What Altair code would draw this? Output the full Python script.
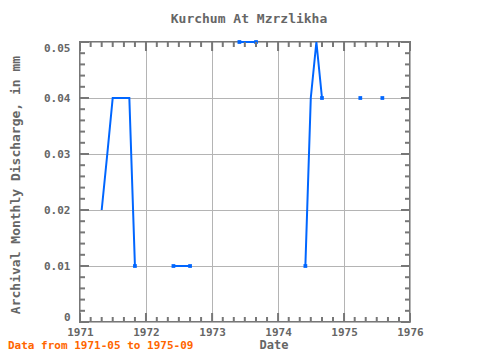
import altair as alt
import pandas as pd

# ---- data ----
months = [
    "1971-05", "1971-06", "1971-07", "1971-08", "1971-09", "1971-10", "1971-11", "1971-12",
    "1972-01", "1972-02", "1972-03", "1972-04", "1972-05", "1972-06", "1972-07", "1972-08",
    "1972-09", "1972-10", "1972-11", "1972-12",
    "1973-01", "1973-02", "1973-03", "1973-04", "1973-05", "1973-06", "1973-07", "1973-08",
    "1973-09", "1973-10", "1973-11", "1973-12",
    "1974-01", "1974-02", "1974-03", "1974-04", "1974-05", "1974-06", "1974-07", "1974-08",
    "1974-09", "1974-10", "1974-11", "1974-12",
    "1975-01", "1975-02", "1975-03", "1975-04", "1975-05", "1975-06", "1975-07", "1975-08",
    "1975-09",
]
discharge = [
    0.02, 0.03, 0.04, 0.04, 0.04, 0.04, 0.01, None,
    None, None, None, None, None, 0.01, 0.01, 0.01,
    0.01, None, None, None,
    None, None, None, None, None, 0.05, 0.05, 0.05,
    0.05, None, None, None,
    None, None, None, None, None, 0.01, 0.04, 0.05,
    0.04, None, None, None,
    None, None, None, 0.04, None, None, None, 0.04,
    None,
]

year_ticks = [1971, 1972, 1973, 1974, 1975, 1976]
x_minor_ticks = [f"{y}-{m:02d}-01" for y in range(1971, 1976) for m in (3, 5, 7, 9, 11)]
y_major_ticks = [0.0, 0.01, 0.02, 0.03, 0.04, 0.05]
y_minor_ticks = [0.002, 0.004, 0.006, 0.008, 0.012, 0.014, 0.016, 0.018,
                 0.022, 0.024, 0.026, 0.028, 0.032, 0.034, 0.036, 0.038,
                 0.042, 0.044, 0.046, 0.048]

title_text = "Kurchum At Mzrzlikha"
y_title = "Archival Monthly Discharge, in mm"
x_title = "Date"
note_text = "Data from 1971-05 to 1975-09"

# ---- build tables ----
rows = []
seg = 0
for i, (m, v) in enumerate(zip(months, discharge)):
    if v is None:
        seg += 1
        continue
    prev_missing = i > 0 and discharge[i - 1] is None
    next_missing = i < len(discharge) - 1 and discharge[i + 1] is None
    rows.append({"date": m + "-01", "value": v, "seg": seg,
                 "marker": bool(prev_missing or next_missing)})
df = pd.DataFrame(rows)

W, H = 330, 280
FONT = "DejaVu Sans Mono"
GRAY = "#777777"
BLUE = "#0066ff"

xscale = alt.Scale(type="utc", domain=[alt.DateTime(year=1971, month=1, date=1, utc=True),
                                       alt.DateTime(year=1976, month=1, date=1, utc=True)],
                   nice=False)
yscale = alt.Scale(domain=[0, 0.05], nice=False)

xaxis = alt.Axis(values=[alt.DateTime(year=y, month=1, date=1, utc=True) for y in year_ticks],
                 labelExpr="utcFormat(datum.value, '%Y')", grid=True, gridColor="#b4b4b4",
                 gridWidth=1, domain=False, ticks=False, tickSize=0, labelPadding=4,
                 labelAlign="center", labelFlush=False,
                 labelFont=FONT, labelFontSize=11, labelFontWeight="bold", labelColor="#666666",
                 title=None)
yaxis = alt.Axis(values=y_major_ticks,
                 labelExpr="datum.value == 0 ? '0' : format(datum.value, '.2f')",
                 grid=True, gridColor="#b4b4b4", gridWidth=1, domain=False, ticks=False,
                 tickSize=0, labelPadding=10, labelFlush=True, labelFont=FONT, labelFontSize=11,
                 labelFontWeight="bold", labelColor="#666666", title=None)

base = alt.Chart(df)
line = base.mark_line(color=BLUE, strokeWidth=2).encode(
    x=alt.X("date:T", scale=xscale, axis=xaxis),
    y=alt.Y("value:Q", scale=yscale, axis=yaxis),
    detail="seg:N",
)
points = base.mark_square(color=BLUE, size=14, opacity=1).encode(
    x=alt.X("date:T", scale=xscale),
    y=alt.Y("value:Q", scale=yscale),
).transform_filter("datum.marker")

# ---- inward tick marks ----
xmaj = pd.DataFrame({"date": [f"{y}-01-01" for y in year_ticks]})
xmin = pd.DataFrame({"date": x_minor_ticks})
ymaj = pd.DataFrame({"v": y_major_ticks})
ymin = pd.DataFrame({"v": y_minor_ticks})

def xticks(d, length):
    b = alt.Chart(d).mark_rule(color=GRAY, strokeWidth=2)
    enc = dict(x=alt.X("date:T", scale=xscale))
    return [b.encode(**enc, y=alt.value(H), y2=alt.value(H - length)),
            b.encode(**enc, y=alt.value(0), y2=alt.value(length))]

def yticks(d, length):
    b = alt.Chart(d).mark_rule(color=GRAY, strokeWidth=2)
    enc = dict(y=alt.Y("v:Q", scale=yscale))
    return [b.encode(**enc, x=alt.value(0), x2=alt.value(length)),
            b.encode(**enc, x=alt.value(W), x2=alt.value(W - length))]

ticks = xticks(xmaj, 9) + xticks(xmin, 5) + yticks(ymaj, 9) + yticks(ymin, 5)

# ---- texts ----
def text_layer(txt, x, y, size, color, align="center", angle=0, baseline="alphabetic"):
    kw = dict(font=FONT, fontSize=size, fontWeight="bold", color=color, align=align,
              baseline=baseline)
    if angle:
        kw["angle"] = angle
    return alt.Chart(pd.DataFrame({"t": [txt]})).mark_text(**kw).encode(
        text="t:N", x=alt.value(x), y=alt.value(y))

title = text_layer(title_text, 169, -19, 13, "#666666")
ytitle = text_layer(y_title, -64, H / 2 + 3, 13, "#666666", angle=270, baseline="middle")
xtitle = text_layer(x_title, 194, 307, 12, "#666666")
note = text_layer(note_text, -72, 307, 11, "#ff6600", align="left")

chart = alt.layer(line, points, *ticks, title, ytitle, xtitle, note).properties(
    width=W, height=H,
    padding={"left": 72, "top": 34, "right": 60, "bottom": 30},
    autosize="none",
).configure_view(stroke=GRAY, strokeWidth=2)

chart.save("out.html", embed_options={"renderer": "svg", "actions": False})
